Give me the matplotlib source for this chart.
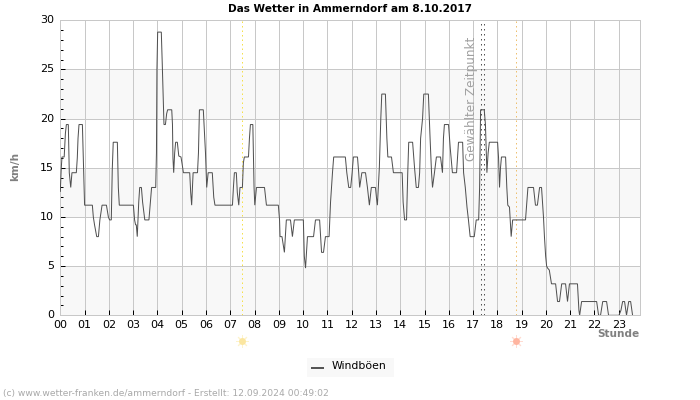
import matplotlib
matplotlib.use("Agg")
import matplotlib.pyplot as plt
from matplotlib.patches import Rectangle
from matplotlib.lines import Line2D

title = "Das Wetter in Ammerndorf am 8.10.2017"
footer = "(c) www.wetter-franken.de/ammerndorf - Erstellt: 12.09.2024 00:49:02"
hour_labels = [f"{h:02d}" for h in range(24)]
sunrise = 7.50
sunset = 18.75
selected = [17.31, 17.47]

hours = [0,.04,.07,.16,.21,.25,.33,.37,.43,.48,.66,.70,.73,.77,.91,.93,.98,1.00,1.32,1.36,1.41,1.50,1.57,1.63,1.72,1.90,1.98,2.03,2.10,2.14,2.18,2.35,2.39,2.43,
 3.01,3.06,3.10,3.13,3.17,3.23,3.27,3.34,3.39,3.48,3.65,3.71,3.76,3.93,3.96,3.98,4.01,4.16,4.20,4.24,4.27,4.33,4.38,4.42,4.59,4.62,4.64,4.67,4.71,4.75,4.82,4.88,4.97,5.01,5.07,5.33,5.37,5.41,5.47,5.65,5.69,5.73,5.89,5.92,5.98,6.03,6.09,6.26,6.32,6.37,
 7.09,7.13,7.17,7.25,7.29,7.35,7.40,7.50,7.54,7.58,7.75,7.79,7.83,7.93,7.95,7.98,8.01,8.08,8.41,8.49,8.98,9.03,9.05,9.13,9.23,9.31,9.48,9.56,9.64,10.01,10.05,10.10,10.18,10.43,10.51,10.68,10.76,10.84,10.92,11.07,11.13,11.21,11.26,11.74,11.80,11.88,11.96,12.02,12.07,12.24,12.29,12.33,12.42,12.57,12.65,12.73,12.81,12.98,13.02,13.06,13.14,13.20,13.24,13.39,13.45,13.49,13.64,13.72,14.08,14.12,14.18,14.26,14.31,14.35,14.51,14.59,14.66,14.75,14.80,14.84,14.92,14.97,15.16,15.23,15.29,15.33,15.41,15.49,15.66,15.74,15.78,15.82,15.99,16.06,16.15,16.32,16.40,16.57,
 16.61,16.68,16.75,16.81,16.88,17.05,17.13,17.23,17.27,17.31,17.46,17.51,17.57,17.62,17.67,18.01,18.05,18.09,18.13,18.17,18.34,18.39,18.43,18.50,18.57,18.63,18.67,19.16,19.20,19.26,19.49,19.57,19.65,19.74,19.82,19.90,19.94,19.99,20.03,20.07,20.14,20.23,20.40,20.48,20.56,20.65,20.81,20.89,20.97,21.30,21.36,21.39,21.47,22.09,22.17,22.25,22.34,22.50,22.58,23.01,23.09,23.16,23.24,23.32,23.41,23.49,23.57]

gusts = [12.6,15,16.1,16.1,18.5,19.4,19.4,14.5,13,14.5,14.5,16,18,19.4,19.4,17.6,13.3,11.2,11.2,10,9.2,8,8,9.7,11.2,11.2,10,9.7,9.7,14.8,17.6,17.6,13,11.2,
 11.2,9.7,9.2,9.2,8,11.5,13,13,11.5,9.7,9.7,11.5,13,13,16.5,25,28.8,28.8,25.5,21.8,19.4,19.4,20.5,20.9,20.9,19.4,16,14.5,16.5,17.6,17.6,16.2,16.1,15.5,14.5,14.5,12.5,11.2,14.5,14.5,16.5,20.9,20.9,19.4,16.5,13,14.5,14.5,12,11.2,
 11.2,13,14.5,14.5,12.5,11.2,13,13,15.5,16.1,16.1,18,19.4,19.4,17,13,11.2,13,13,11.2,11.2,9.7,8,8,6.4,9.7,9.7,8,9.7,9.7,6,4.8,8,8,9.7,9.7,6.4,6.4,8,8,11.5,14.5,16.1,16.1,14.5,13,13,14.5,16.1,16.1,14.5,13,14.5,14.5,13,11.2,13,13,12,11.2,15,20,22.5,22.5,18,16.1,16.1,14.5,14.5,11.5,9.7,9.7,14.5,17.6,17.6,15,13,13,14.5,18,20,22.5,22.5,18,14.5,13,14.5,16.1,16.1,14.5,18,19.4,19.4,17,14.5,14.5,17.6,17.6,
 14.5,13,11,9.7,8,8,9.7,9.7,13,20.9,20.9,19.4,14.5,16.5,17.6,17.6,16,13,15,16.1,16.1,13,11.2,11,8,9.7,9.7,9.7,11,13,13,11.2,11.2,13,13,10,8,6,5,4.8,4.6,3.2,3.2,1.4,1.4,3.2,3.2,1.4,3.2,3.2,0.5,0,1.4,1.4,0,0,1.4,1.4,0,0,0.5,1.4,1.4,0,1.4,1.4,0]

W, H = 700, 400
L, R, T, B = 60.3, 640.3, 20.3, 315.3
HOUR_PX = 24.28
GREY = "#c8c8c8"

fig = plt.figure(figsize=(W/100, H/100), dpi=100, facecolor="white")
ax = fig.add_axes([L/W, 1-B/H, (R-L)/W, (B-T)/H])
ax.set_xlim(0, (R-L)/HOUR_PX)
ax.set_ylim(0, 30)

for y0 in (0, 10, 20):
    ax.axhspan(y0, y0+5, color="#f8f8f8", lw=0, zorder=0)
ax.set_xticks(range(24), hour_labels)
ax.set_yticks(range(0, 31, 5))
ax.set_yticks(range(0, 31), minor=True)
ax.grid(True, which="major", color=GREY, lw=0.72, zorder=1)
ax.set_axisbelow(True)
ax.tick_params(axis="x", which="major", direction="in", length=3.6, width=0.72, labelsize=8, pad=3.5, colors="black")
ax.tick_params(axis="y", which="major", direction="in", length=3.6, width=0.72, labelsize=8, pad=4.5, colors="black")
ax.tick_params(axis="y", which="minor", direction="in", length=2.2, width=0.72, colors="black")
for s in ax.spines.values():
    s.set_color(GREY)
    s.set_linewidth(0.72)
for lab in ax.get_yticklabels():
    lab.set_verticalalignment("center")
    lab.set_y(lab.get_position()[1])

ax.axvline(sunrise, color="#f5e04a", lw=0.72, ls=(0, (1.5, 3)), zorder=2)
ax.axvline(sunset, color="#eec070", lw=0.72, ls=(0, (1.5, 3)), zorder=2)
for s in selected:
    ax.axvline(s, color="#555555", lw=0.72, ls=(0, (1.5, 3.5)), zorder=2)

ax.plot(hours, gusts, color="#505050", lw=0.72, zorder=3, solid_joinstyle="miter")

fig.text(472/W, 1-98.5/H, "Gewählter Zeitpunkt", rotation=90, ha="center", va="center", fontsize=8.65, color="#a0a0a0")
fig.text(349.5/W, 1-9/H, title, ha="center", va="center", fontsize=7.6, fontweight="bold", color="black")
fig.text(15/W, 1-166/H, "km/h", rotation=90, ha="center", va="center", fontsize=7.6, fontweight="bold", color="#808080")
fig.text(639.5/W, 1-334/H, "Stunde", ha="right", va="center", fontsize=7.6, fontweight="bold", color="#808080")
fig.text(3/W, 1-393.5/H, footer, ha="left", va="center", fontsize=6.6, color="#a8a8a8")

trans = ax.get_xaxis_transform()
sun_y = 1 - (341-T)/(B-T)
for h, col, ray in ((sunrise, "#fbe6a0", "#fdf3cc"), (sunset, "#ffb5a0", "#ffdcd2")):
    ax.plot([h], [sun_y], transform=trans, marker=(8, 2, 0), ms=9, mew=0.7, color=ray, clip_on=False, zorder=4)
    ax.plot([h], [sun_y], transform=trans, marker="o", ms=5, mew=0, color=col, clip_on=False, zorder=5)

fig.add_artist(Rectangle((307/W, 1-377/H), 87/W, 19/H, transform=fig.transFigure, facecolor="#f8f8f8", edgecolor="none"))
fig.add_artist(Line2D([312/W, 323/W], [1-367.5/H]*2, transform=fig.transFigure, color="#555555", lw=1.44))
fig.text(332/W, 1-366/H, "Windböen", ha="left", va="center", fontsize=7.8, color="black")

fig.savefig("out.png", dpi=100, facecolor="white")
